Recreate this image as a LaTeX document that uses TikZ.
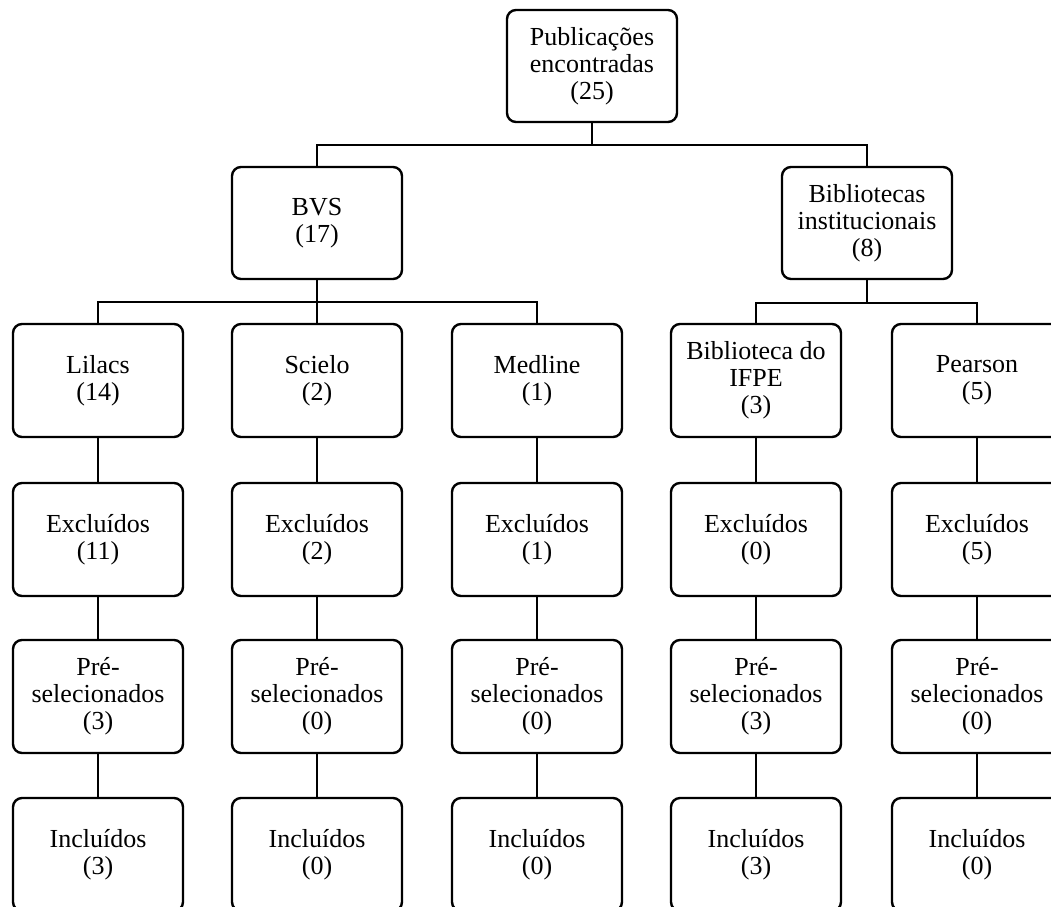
\documentclass[tikz,border=0pt]{standalone}
\usepackage{fontspec}
\setmainfont{Liberation Serif}
\begin{document}
\begin{tikzpicture}[x=1pt,y=-1pt,
  box/.style={draw, line width=2.4pt, rounded corners=9pt, minimum width=170pt, minimum height=113pt, align=center, inner sep=0pt, font=\fontsize{26}{27}\selectfont},
  link/.style={line width=2pt}]
\clip (0,0) rectangle (1051,906);
% top
\node[box, minimum height=112pt] (root) at (592,66) {Publicações\\encontradas\\(25)};
\node[box, minimum height=112pt] (bvs) at (317,223) {BVS\\(17)};
\node[box, minimum height=112pt] (bib) at (867,223) {Bibliotecas\\institucionais\\(8)};
% row 3
\node[box] (a1) at (98,380.5) {Lilacs\\(14)};
\node[box] (b1) at (317,380.5) {Scielo\\(2)};
\node[box] (c1) at (537,380.5) {Medline\\(1)};
\node[box] (d1) at (756,380.5) {Biblioteca do\\IFPE\\(3)};
\node[box] (e1) at (977,380.5) {Pearson\\(5)};
% row 4
\node[box] (a2) at (98,539.5) {Excluídos\\(11)};
\node[box] (b2) at (317,539.5) {Excluídos\\(2)};
\node[box] (c2) at (537,539.5) {Excluídos\\(1)};
\node[box] (d2) at (756,539.5) {Excluídos\\(0)};
\node[box] (e2) at (977,539.5) {Excluídos\\(5)};
% row 5
\node[box] (a3) at (98,696.5) {Pré-\\selecionados\\(3)};
\node[box] (b3) at (317,696.5) {Pré-\\selecionados\\(0)};
\node[box] (c3) at (537,696.5) {Pré-\\selecionados\\(0)};
\node[box] (d3) at (756,696.5) {Pré-\\selecionados\\(3)};
\node[box] (e3) at (977,696.5) {Pré-\\selecionados\\(0)};
% row 6
\node[box] (a4) at (98,854.5) {Incluídos\\(3)};
\node[box] (b4) at (317,854.5) {Incluídos\\(0)};
\node[box] (c4) at (537,854.5) {Incluídos\\(0)};
\node[box] (d4) at (756,854.5) {Incluídos\\(3)};
\node[box] (e4) at (977,854.5) {Incluídos\\(0)};
% junctions
\coordinate (j0) at (592,145);
\coordinate (j1) at (317,302);
\coordinate (j2) at (867,303);
\draw[link] (root.south) -- (j0);
\draw[link] (bvs.north) |- (j0);
\draw[link] (bib.north) |- (j0);
\draw[link] (bvs.south) -- (j1);
\draw[link] (a1.north) |- (j1);
\draw[link] (b1.north) -- (j1);
\draw[link] (c1.north) |- (j1);
\draw[link] (bib.south) -- (j2);
\draw[link] (d1.north) |- (j2);
\draw[link] (e1.north) |- (j2);
\foreach \c in {a,b,c,d,e}{
  \draw[link] (\c1.south) -- (\c2.north);
  \draw[link] (\c2.south) -- (\c3.north);
  \draw[link] (\c3.south) -- (\c4.north);
}
\end{tikzpicture}
\end{document}
